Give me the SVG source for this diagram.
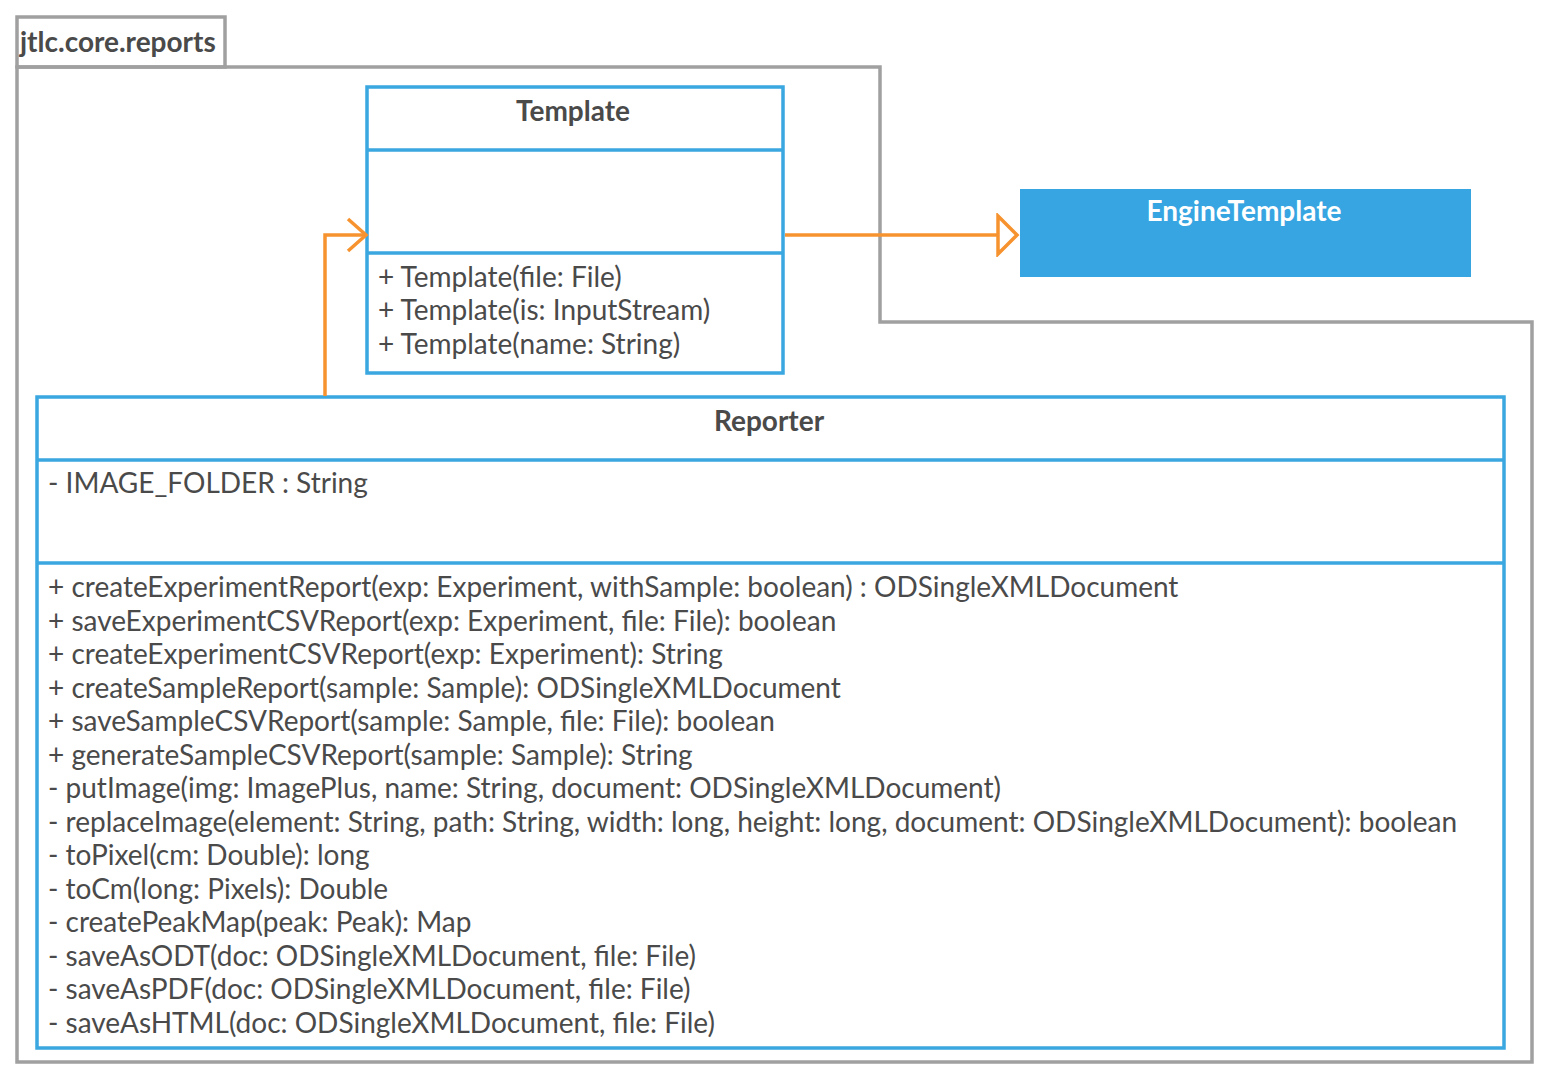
<svg xmlns="http://www.w3.org/2000/svg" width="1550" height="1080" viewBox="0 0 1550 1080">
<defs>
<style>
.pkg{fill:none;stroke:#a0a0a0;stroke-width:3.5}
.cls{fill:#fff;stroke:#3aa7e1;stroke-width:3.5}
.div{stroke:#3aa7e1;stroke-width:3.5}
.t{font-family:Lato,"Liberation Sans",sans-serif;font-size:28px;fill:#4a4a4a}
.b{font-weight:bold}
.w{fill:#fff}
.con{fill:none;stroke:#f7932f;stroke-width:3.5}
</style>
<marker id="open" markerWidth="24" markerHeight="40" refX="20" refY="20" orient="auto" markerUnits="userSpaceOnUse">
<path d="M2,4 L20,20 L2,36" fill="none" stroke="#f7932f" stroke-width="3.5"/>
</marker>
<marker id="tri" markerWidth="26" markerHeight="44" refX="21" refY="22" orient="auto" markerUnits="userSpaceOnUse">
<path d="M2,3 L21,22 L2,41 Z" fill="#fff" stroke="#f7932f" stroke-width="3.5"/>
</marker>
</defs>
<rect width="1550" height="1080" fill="#fff"/>
<g id="package">
<rect class="pkg" x="17" y="17" width="208" height="50"/>
<path class="pkg" d="M17,67 L880,67 L880,322 L1532,322 L1532,1062 L17,1062 Z"/>
<text class="t b" x="20" y="52">jtlc.core.reports</text>
</g>
<g id="template">
<rect class="cls" x="367" y="87" width="416" height="286"/>
<line class="div" x1="367" y1="150" x2="783" y2="150"/>
<line class="div" x1="367" y1="253" x2="783" y2="253"/>
<text class="t b" x="573" y="121" text-anchor="middle">Template</text>
<text class="t" x="378" y="287">+ Template(file: File)</text>
<text class="t" x="378" y="320">+ Template(is: InputStream)</text>
<text class="t" x="378" y="354">+ Template(name: String)</text>
</g>
<g id="enginetemplate">
<rect x="1020" y="189" width="451" height="88" fill="#36a5e1"/>
<text class="t b w" x="1244" y="221" text-anchor="middle">EngineTemplate</text>
</g>
<g id="reporter">
<rect class="cls" x="37" y="397" width="1467" height="651"/>
<line class="div" x1="37" y1="460" x2="1504" y2="460"/>
<line class="div" x1="37" y1="563" x2="1504" y2="563"/>
<text class="t b" x="769" y="431" text-anchor="middle">Reporter</text>
<text class="t" x="48" y="493">- IMAGE_FOLDER : String</text>
<text class="t" x="48" y="597">+ createExperimentReport(exp: Experiment, withSample: boolean) : ODSingleXMLDocument</text>
<text class="t" x="48" y="631">+ saveExperimentCSVReport(exp: Experiment, file: File): boolean</text>
<text class="t" x="48" y="664">+ createExperimentCSVReport(exp: Experiment): String</text>
<text class="t" x="48" y="698">+ createSampleReport(sample: Sample): ODSingleXMLDocument</text>
<text class="t" x="48" y="731">+ saveSampleCSVReport(sample: Sample, file: File): boolean</text>
<text class="t" x="48" y="765">+ generateSampleCSVReport(sample: Sample): String</text>
<text class="t" x="48" y="798">- putImage(img: ImagePlus, name: String, document: ODSingleXMLDocument)</text>
<text class="t" x="48" y="832">- replaceImage(element: String, path: String, width: long, height: long, document: ODSingleXMLDocument): boolean</text>
<text class="t" x="48" y="865">- toPixel(cm: Double): long</text>
<text class="t" x="48" y="899">- toCm(long: Pixels): Double</text>
<text class="t" x="48" y="932">- createPeakMap(peak: Peak): Map</text>
<text class="t" x="48" y="966">- saveAsODT(doc: ODSingleXMLDocument, file: File)</text>
<text class="t" x="48" y="999">- saveAsPDF(doc: ODSingleXMLDocument, file: File)</text>
<text class="t" x="48" y="1033">- saveAsHTML(doc: ODSingleXMLDocument, file: File)</text>
</g>
<g id="connectors">
<path class="con" d="M325,396 L325,235 L366,235" marker-end="url(#open)"/>
<path class="con" d="M785,235 L1017,235" marker-end="url(#tri)"/>
</g>
</svg>
